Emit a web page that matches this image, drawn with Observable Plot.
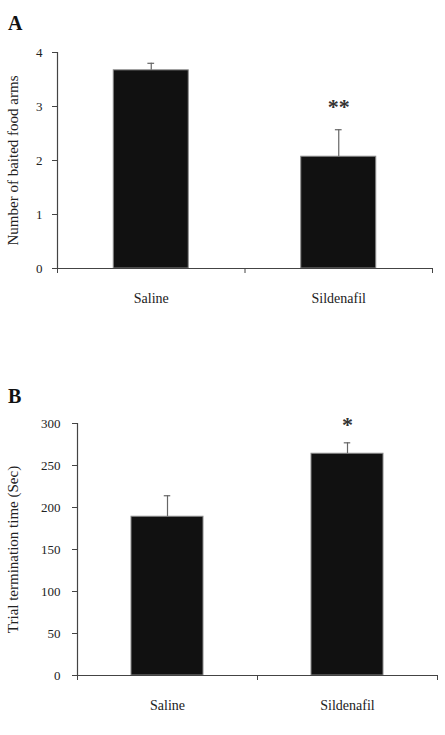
<!DOCTYPE html>
<html>
<head>
<meta charset="utf-8">
<script src="https://cdn.jsdelivr.net/npm/d3@7"></script>
<script src="https://cdn.jsdelivr.net/npm/@observablehq/plot@0.6"></script>
<style>
  html, body { margin: 0; padding: 0; background: #fff; }
  #fig { position: relative; width: 445px; height: 735px; font-family: "Liberation Serif", serif; }
  .letter { position: absolute; left: 8px; font-weight: bold; font-size: 20px; line-height: 1; color: #111; z-index: 2; }
  .panel { position: absolute; left: 0; z-index: 1; }
</style>
</head>
<body>
<div id="fig"></div>
<script>
// Groups compared in both experiments
const groups = ["Saline", "Sildenafil"];

// Panel A: number of baited food arms (mean and SEM)
const armsMean = [3.67, 2.07];
const armsSem = [0.13, 0.50];
const armsStars = ["", "**"];
const armsTicks = [0, 1, 2, 3, 4];

// Panel B: trial termination time in seconds (mean and SEM)
const timeMean = [189, 264];
const timeSem = [25, 13];
const timeStars = ["", "*"];
const timeTicks = [0, 50, 100, 150, 200, 250, 300];

function panel({means, sems, stars, ticks, yLabel, height, marginLeft, marginRight, marginTop, marginBottom, tickPadding, labelDx, starDy}) {
  const rows = groups.map((g, i) => ({g, pos: i + 0.5, mean: means[i], sem: sems[i], star: stars[i]}));
  const half = 0.2;   // half bar width, in category units
  const cap = 0.018;  // half error-cap width
  return Plot.plot({
    width: 445,
    height,
    marginLeft, marginRight, marginTop, marginBottom,
    style: {fontFamily: "Liberation Serif, serif", fontSize: "13px", color: "#222", background: "transparent"},
    x: {domain: [0, groups.length], axis: null},
    y: {domain: [0, ticks[ticks.length - 1]], axis: null},
    marks: [
      Plot.rectY(rows, {x1: d => d.pos - half, x2: d => d.pos + half, y: "mean", fill: "#111", stroke: "#8a8a8a", strokeWidth: 1}),
      Plot.ruleX(rows, {x: "pos", y1: "mean", y2: d => d.mean + d.sem, stroke: "#666", strokeWidth: 1.2}),
      Plot.ruleY(rows, {y: d => d.mean + d.sem, x1: d => d.pos - cap, x2: d => d.pos + cap, stroke: "#666", strokeWidth: 1.2}),
      Plot.ruleX([0], {stroke: "#444", strokeWidth: 1.2}),
      Plot.ruleY([0], {stroke: "#444", strokeWidth: 1.2}),
      Plot.axisY({ticks, tickSize: 5, tickPadding, stroke: "#444", fontSize: 13, tickFormat: d => String(d), label: null}),
      Plot.axisX({ticks: d3.range(0, groups.length + 1), tickSize: 5, tickFormat: () => "", stroke: "#444", label: null}),
      Plot.text([yLabel], {frameAnchor: "left", textAnchor: "middle", rotate: -90, dx: labelDx, fontSize: 15, fill: "#222"}),
      Plot.text(rows, {x: "pos", y: 0, text: "g", dy: 30, fontSize: 14}),
      Plot.text(rows, {x: "pos", y: d => d.mean + d.sem, text: "star", dy: starDy, fontSize: 22, fontWeight: "bold", fill: "#333"})
    ]
  });
}

const fig = document.getElementById("fig");

function addLetter(txt, top) {
  const el = document.createElement("div");
  el.className = "letter";
  el.textContent = txt;
  el.style.top = top + "px";
  fig.appendChild(el);
}

function addPanel(svg, top) {
  const wrap = document.createElement("div");
  wrap.className = "panel";
  wrap.style.top = top + "px";
  wrap.appendChild(svg);
  fig.appendChild(wrap);
}

addLetter("A", 13);
addPanel(panel({
  means: armsMean, sems: armsSem, stars: armsStars, ticks: armsTicks,
  yLabel: "Number of baited food arms",
  height: 290, marginLeft: 57, marginRight: 13, marginTop: 22, marginBottom: 52,
  tickPadding: 10, labelDx: -44, starDy: -23
}), 30);

addLetter("B", 386);
addPanel(panel({
  means: timeMean, sems: timeSem, stars: timeStars, ticks: timeTicks,
  yLabel: "Trial termination time (Sec)",
  height: 325, marginLeft: 77, marginRight: 8, marginTop: 23, marginBottom: 50,
  tickPadding: 12, labelDx: -64, starDy: -18
}), 400);
</script>
</body>
</html>
